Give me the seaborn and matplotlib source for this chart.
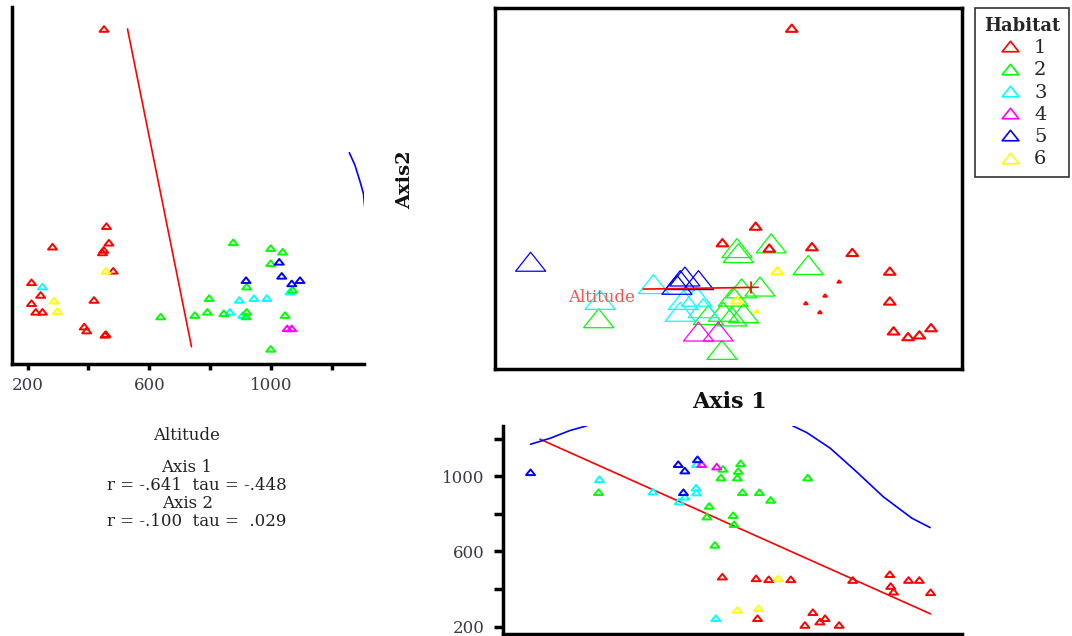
import numpy as np
import pandas as pd
import matplotlib
matplotlib.use('Agg')
import matplotlib.pyplot as plt
import seaborn as sns
from matplotlib.path import Path
from matplotlib.lines import Line2D

# ---------------- data ----------------
habitats = ['1', '2', '3', '4', '5', '6']
palette = {'1': '#ff0000', '2': '#00ff00', '3': '#00ffff',
           '4': '#ff00ff', '5': '#0000ff', '6': '#ffff00'}

# main ordination (Axis 1, Axis 2), habitat, symbol size class
main_ax1 = [63.7, 56.0, 48.9, 58.9, 68.0, 76.6, 84.6, 84.6, 85.4, 88.5, 90.9, 93.4,
            73.8, 70.8, 66.7, 69.7,
            60.6, 52.0, 56.2,
            22.5, 52.0, 52.3, 59.3, 67.2, 56.9, 53.0, 51.2, 45.9, 49.1, 53.4, 50.9, 48.8,
            43.8, 48.0,
            34.2, 22.8, 40.6, 43.4, 39.9, 44.8,
            8.0, 40.9, 43.8, 39.9, 39.2]
main_ax2 = [94.4, 39.4, 34.8, 33.3, 33.7, 32.1, 26.9, 18.6, 10.3, 8.7, 9.2, 11.2,
            24.0, 20.1, 18.0, 15.5,
            27.0, 18.9, 15.8,
            13.8, 33.3, 31.9, 34.6, 28.6, 22.6, 22.1, 19.8, 14.7, 15.6, 15.2, 14.3, 5.0,
            10.1, 10.1,
            23.3, 18.9, 18.9, 19.8, 15.6, 16.6,
            29.5, 25.4, 24.4, 24.4, 23.1]
main_hab = ['1'] * 16 + ['6'] * 3 + ['2'] * 13 + ['4'] * 2 + ['3'] * 6 + ['5'] * 5
main_sz = ['S'] * 12 + ['D'] * 4 + ['S', 'S', 'D'] + ['L'] * 26

# left panel: Altitude vs Axis 2
left_alt = [451, 459, 467, 450, 446, 282, 481, 213, 243, 213, 227, 249, 418, 386, 394, 454, 457,
            457, 287, 298,
            249, 864, 895, 943, 985, 906, 1061,
            637, 749, 790, 796, 844, 875, 998, 1037, 998, 919, 919, 917, 1045, 1070, 998,
            1026, 917, 1034, 1067, 1094,
            1052, 1067]
left_ax2 = [94.2, 39.4, 34.8, 32.8, 32.1, 33.7, 27.0, 23.8, 20.3, 18.0, 15.6, 15.6, 18.9, 11.5, 10.4, 9.2, 9.4,
            27.0, 18.7, 15.8,
            22.6, 15.6, 18.9, 19.4, 19.4, 14.7, 21.2,
            14.3, 14.7, 15.6, 19.4, 15.2, 34.9, 33.3, 32.3, 29.1, 22.6, 15.6, 14.3, 14.7, 21.7, 5.3,
            29.5, 24.4, 25.6, 23.5, 24.4,
            11.0, 11.0]
left_hab = ['1'] * 17 + ['6'] * 3 + ['3'] * 7 + ['2'] * 15 + ['5'] * 5 + ['4'] * 2
left_red_alt = [528, 738]
left_red_ax2 = [94.2, 5.9]
left_blue_alt = [1256, 1274, 1291, 1302, 1307]
left_blue_ax2 = [59.8, 56.4, 51.8, 48.5, 44.2]

# bottom panel: Axis 1 vs Altitude
bot_ax1 = [48.9, 56.1, 58.8, 63.5, 76.7, 84.6, 84.8, 85.4, 88.6, 90.9, 93.3, 56.4, 68.2, 66.5, 69.7, 70.8, 73.8,
           22.5, 49.0, 52.8, 52.3, 48.6, 52.1, 53.2, 56.8, 59.2, 67.1, 46.1, 45.6, 51.2, 51.4, 47.3,
           22.7, 34.1, 39.7, 40.9, 43.3, 43.4, 43.4, 47.5,
           44.5, 47.7,
           8.0, 39.5, 40.9, 43.6, 40.6,
           52.1, 56.6, 60.8]
bot_alt = [466, 457, 452, 452, 448, 479, 416, 386, 448, 448, 383, 245, 277, 209, 227, 245, 209,
           915, 1039, 1069, 1028, 993, 993, 915, 915, 874, 993, 842, 785, 793, 745, 635,
           984, 918, 865, 891, 939, 913, 1064, 245,
           1064, 1051,
           1021, 1064, 1030, 1090, 915,
           289, 298, 457]
bot_hab = ['1'] * 17 + ['2'] * 15 + ['3'] * 8 + ['4'] * 2 + ['5'] * 5 + ['6'] * 3
bot_red_ax1 = [10.0, 93.3]
bot_red_alt = [1197, 268]
bot_blue1_ax1 = [8.0, 12.2, 16.4, 20.0]
bot_blue1_alt = [1170, 1202, 1243, 1268]
bot_blue2_ax1 = [63.9, 66.9, 71.9, 77.5, 83.2, 89.3, 93.2]
bot_blue2_alt = [1268, 1232, 1149, 1024, 891, 777, 727]

# joint-plot vector for Altitude
vec_ax1 = [32.0, 56.5]
vec_ax2 = [21.9, 22.4]
vec_tick_ax1 = [54.9, 54.9]
vec_tick_ax2 = [20.7, 24.0]
vec_label_pos = (23.2, 19.5)

stats_lines = ['Altitude', 'Axis 1', 'r = -.641  tau = -.448', 'Axis 2', 'r = -.100  tau =  .029']

alt_ticks = [200, 400, 600, 800, 1000, 1200]
alt_ticklabels = ['200', '', '600', '', '1000', '']

# ---------------- style ----------------
sns.set_style('white')
plt.rcParams['font.family'] = ['DejaVu Serif']

W, H = 1072, 636
fig = plt.figure(figsize=(W / 100, H / 100), dpi=100)


def rect(l, t, r, b):
    return [l / W, 1 - b / H, (r - l) / W, (b - t) / H]


ax_main = fig.add_axes(rect(495, 8, 962, 369))
ax_left = fig.add_axes(rect(12, 7, 364, 364))
ax_bot = fig.add_axes(rect(503, 426, 962, 634))

tri = Path([(-1, -0.63), (1, -0.63), (0, 0.63), (-1, -0.63)],
           [Path.MOVETO, Path.LINETO, Path.LINETO, Path.CLOSEPOLY])


def tri_scatter(ax, df, x, y, size=None, sizes=None, s=None, lw=1.0):
    kw = dict(data=df, x=x, y=y, hue='hab', palette=palette, marker=tri,
              legend=False, ax=ax, linewidth=lw, zorder=3)
    if size is not None:
        kw.update(size=size, sizes=sizes)
    else:
        kw['s'] = s
    sns.scatterplot(**kw)
    coll = ax.collections[-1]
    fc = coll.get_facecolors()
    coll.set_edgecolors(fc)
    coll.set_facecolors('none')


# main
df_main = pd.DataFrame({'ax1': main_ax1, 'ax2': main_ax2, 'hab': main_hab, 'sz': main_sz})
small = df_main[df_main.sz != 'L']
large = df_main[df_main.sz == 'L']
tri_scatter(ax_main, large, 'ax1', 'ax2', size='sz', sizes={'L': 470}, lw=0.9)
tri_scatter(ax_main, small, 'ax1', 'ax2', size='sz', sizes={'S': 70, 'D': 6}, lw=1.5)
ax_main.plot(vec_ax1, vec_ax2, color='red', lw=1.2, zorder=4)
ax_main.plot(vec_tick_ax1, vec_tick_ax2, color='red', lw=1.2, zorder=4)
ax_main.text(*vec_label_pos, 'Altitude', color='#ff5050', fontsize=12,
             ha='center', va='center', zorder=5)
ax_main.set_xlim(0.4, 100)
ax_main.set_ylim(-0.3, 100)
ax_main.set_xticks([])
ax_main.set_yticks([])
ax_main.set_xlabel('')
ax_main.set_ylabel('')
for sp in ax_main.spines.values():
    sp.set_visible(True)
    sp.set_color('black')
    sp.set_linewidth(2.5)

# left
df_left = pd.DataFrame({'alt': left_alt, 'ax2': left_ax2, 'hab': left_hab})
tri_scatter(ax_left, df_left, 'alt', 'ax2', s=42, lw=1.4)
ax_left.plot(left_red_alt, left_red_ax2, color='red', lw=1.2)
ax_left.plot(left_blue_alt, left_blue_ax2, color='blue', lw=1.2)
ax_left.set_xlim(149, 1304)
ax_left.set_ylim(1.1, 100.3)
ax_left.set_xticks(alt_ticks)
ax_left.set_xticklabels(alt_ticklabels)
ax_left.set_yticks([])
ax_left.set_xlabel('')
ax_left.set_ylabel('')
ax_left.tick_params(axis='x', direction='out', length=4, width=2.5, color='black',
                    bottom=True, labelsize=12, labelcolor='#3a3a48', pad=5)
for name, sp in ax_left.spines.items():
    sp.set_visible(name in ('left', 'bottom'))
    sp.set_color('black')
    sp.set_linewidth(2.5)

# bottom
df_bot = pd.DataFrame({'ax1': bot_ax1, 'alt': bot_alt, 'hab': bot_hab})
tri_scatter(ax_bot, df_bot, 'ax1', 'alt', s=42, lw=1.4)
ax_bot.plot(bot_red_ax1, bot_red_alt, color='red', lw=1.2)
ax_bot.plot(bot_blue1_ax1, bot_blue1_alt, color='blue', lw=1.2)
ax_bot.plot(bot_blue2_ax1, bot_blue2_alt, color='blue', lw=1.2)
ax_bot.set_xlim(2.13, 100)
ax_bot.set_ylim(161, 1267)
ax_bot.set_yticks(alt_ticks)
ax_bot.set_yticklabels(alt_ticklabels)
ax_bot.set_xticks([])
ax_bot.set_xlabel('')
ax_bot.set_ylabel('')
ax_bot.tick_params(axis='y', direction='out', length=6.5, width=2.5, color='black',
                   left=True, labelsize=12, labelcolor='#3a3a48', pad=7)
for name, sp in ax_bot.spines.items():
    sp.set_visible(name in ('left', 'bottom'))
    sp.set_color('black')
    sp.set_linewidth(2.5)

# axis titles
fig.text(405 / W, 1 - 180 / H, 'Axis2', rotation=90, ha='center', va='center',
         fontsize=14, fontweight='bold', color='#111111')
fig.text(729 / W, 1 - 402 / H, 'Axis 1', ha='center', va='center',
         fontsize=16, fontweight='bold', color='#111111')

# statistics text
stat_pos = [(187, 436), (187, 468), (197, 486), (188, 504), (197, 521)]
for (px, py), t in zip(stat_pos, stats_lines):
    fig.text(px / W, 1 - py / H, t, ha='center', va='center', fontsize=12, color='#222222')

# legend
handles = [Line2D([], [], marker=tri, ls='none', mfc='none', mec=palette[k],
                  ms=12, mew=1.2) for k in habitats]
leg = fig.legend(handles, habitats, title='Habitat', loc='upper left',
                 bbox_to_anchor=(975 / W, 1 - 8 / H), frameon=True, fancybox=False,
                 edgecolor='black', fontsize=14,
                 title_fontproperties={'weight': 'bold', 'size': 13},
                 handlelength=1.3, handletextpad=0.6, labelspacing=0.22,
                 borderpad=0.45, alignment='center', borderaxespad=0)
leg.get_frame().set_linewidth(1.2)

fig.savefig('out.png', dpi=100, facecolor='white')
